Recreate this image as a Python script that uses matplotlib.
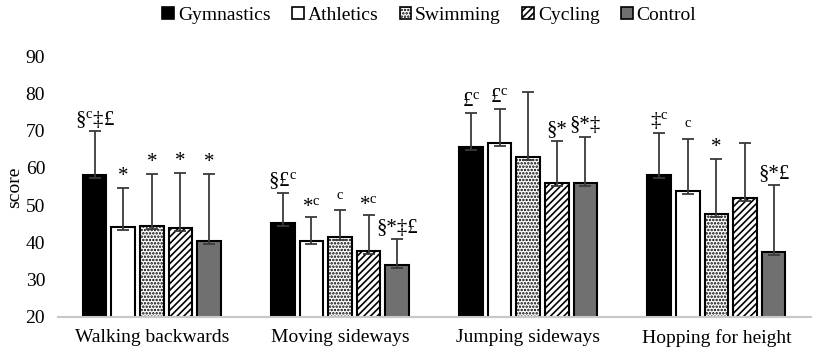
import matplotlib
matplotlib.use('Agg')
import matplotlib.pyplot as plt
from matplotlib.patches import Patch
import numpy as np

plt.rcParams['font.family'] = ['Liberation Serif', 'DejaVu Serif']
plt.rcParams['mathtext.fontset'] = 'custom'
plt.rcParams['mathtext.rm'] = 'Liberation Serif'
plt.rcParams['mathtext.it'] = 'Liberation Serif'
plt.rcParams['hatch.linewidth'] = 1.2

# data
tests = ['Walking backwards', 'Moving sideways', 'Jumping sideways', 'Hopping for height']
groups = ['Gymnastics', 'Athletics', 'Swimming', 'Cycling', 'Control']

gymnastics = [58.2, 45.2, 65.6, 58.2]
athletics = [44.2, 40.5, 66.6, 53.7]
swimming = [44.5, 41.5, 62.8, 47.7]
cycling = [44.0, 37.8, 56.0, 52.0]
control = [40.3, 33.9, 56.0, 37.4]

gymnastics_sd = [11.6, 8.0, 9.1, 11.2]
athletics_sd = [10.5, 6.4, 9.3, 14.0]
swimming_sd = [14.0, 7.1, 17.7, 14.8]
cycling_sd = [14.7, 9.6, 11.2, 14.7]
control_sd = [18.0, 6.9, 12.4, 17.9]

sup = r'$^{\mathrm{c}}$'
gymnastics_sig = ['§' + sup + '‡£', '§£' + sup, '£' + sup, '‡' + sup]
athletics_sig = ['*', '*' + sup, '£' + sup, sup]
swimming_sig = ['*', sup, '', '*']
cycling_sig = ['*', '*' + sup, '§*', '']
control_sig = ['*', '§*‡£', '§*‡', '§*£']

means = [gymnastics, athletics, swimming, cycling, control]
sds = [gymnastics_sd, athletics_sd, swimming_sd, cycling_sd, control_sd]
sigs = [gymnastics_sig, athletics_sig, swimming_sig, cycling_sig, control_sig]

styles = [
    dict(color='black', hatch=None),
    dict(color='white', hatch=None),
    dict(color='white', hatch='.....'),
    dict(color='white', hatch='/////'),
    dict(color='#707070', hatch=None),
]

fig = plt.figure(figsize=(8.13, 3.53), dpi=100)
ax = fig.add_axes([0.071, 0.102, 0.926, 0.739])

x = np.arange(len(tests))
pitch = 0.152
width = 0.125

for i, (m, s, sg, st) in enumerate(zip(means, sds, sigs, styles)):
    xs = x + (i - 2) * pitch
    ax.bar(xs, m, width=width, bottom=0, color=st['color'], hatch=st['hatch'],
           edgecolor='black', linewidth=1.5, zorder=2)
    lower = [0.8] * len(m)
    ax.errorbar(xs, m, yerr=[lower, s], fmt='none', ecolor='#3a3a3a',
                elinewidth=1.3, capsize=4, capthick=1.3, zorder=3)
    for xi, mi, si, lab in zip(xs, m, s, sg):
        if lab:
            ax.text(xi, mi + si + 0.5, lab, ha='center', va='bottom',
                    fontsize=15, zorder=4)

ax.set_ylim(20, 90)
ax.set_xlim(-0.5, 3.5)
ax.set_yticks(range(20, 91, 10))
ax.set_xticks(x)
ax.set_xticklabels(tests)
ax.tick_params(axis='both', length=0, labelsize=14, pad=9)
fig.text(0.018, 0.47, 'score', rotation=90, ha='center', va='center', fontsize=14)

for side in ['top', 'right', 'left']:
    ax.spines[side].set_visible(False)
ax.spines['bottom'].set_color('#c8c8c8')
ax.spines['bottom'].set_linewidth(1.5)

handles = [Patch(facecolor=st['color'], hatch=st['hatch'], edgecolor='black', linewidth=1.2)
           for st in styles]
fig.legend(handles, groups, loc='upper center', bbox_to_anchor=(0.528, 1.03), ncol=5,
           frameon=False, fontsize=14, handlelength=0.6, handleheight=0.6,
           handletextpad=0.2, columnspacing=1.1)

fig.savefig('out.png', dpi=100, facecolor='white')
